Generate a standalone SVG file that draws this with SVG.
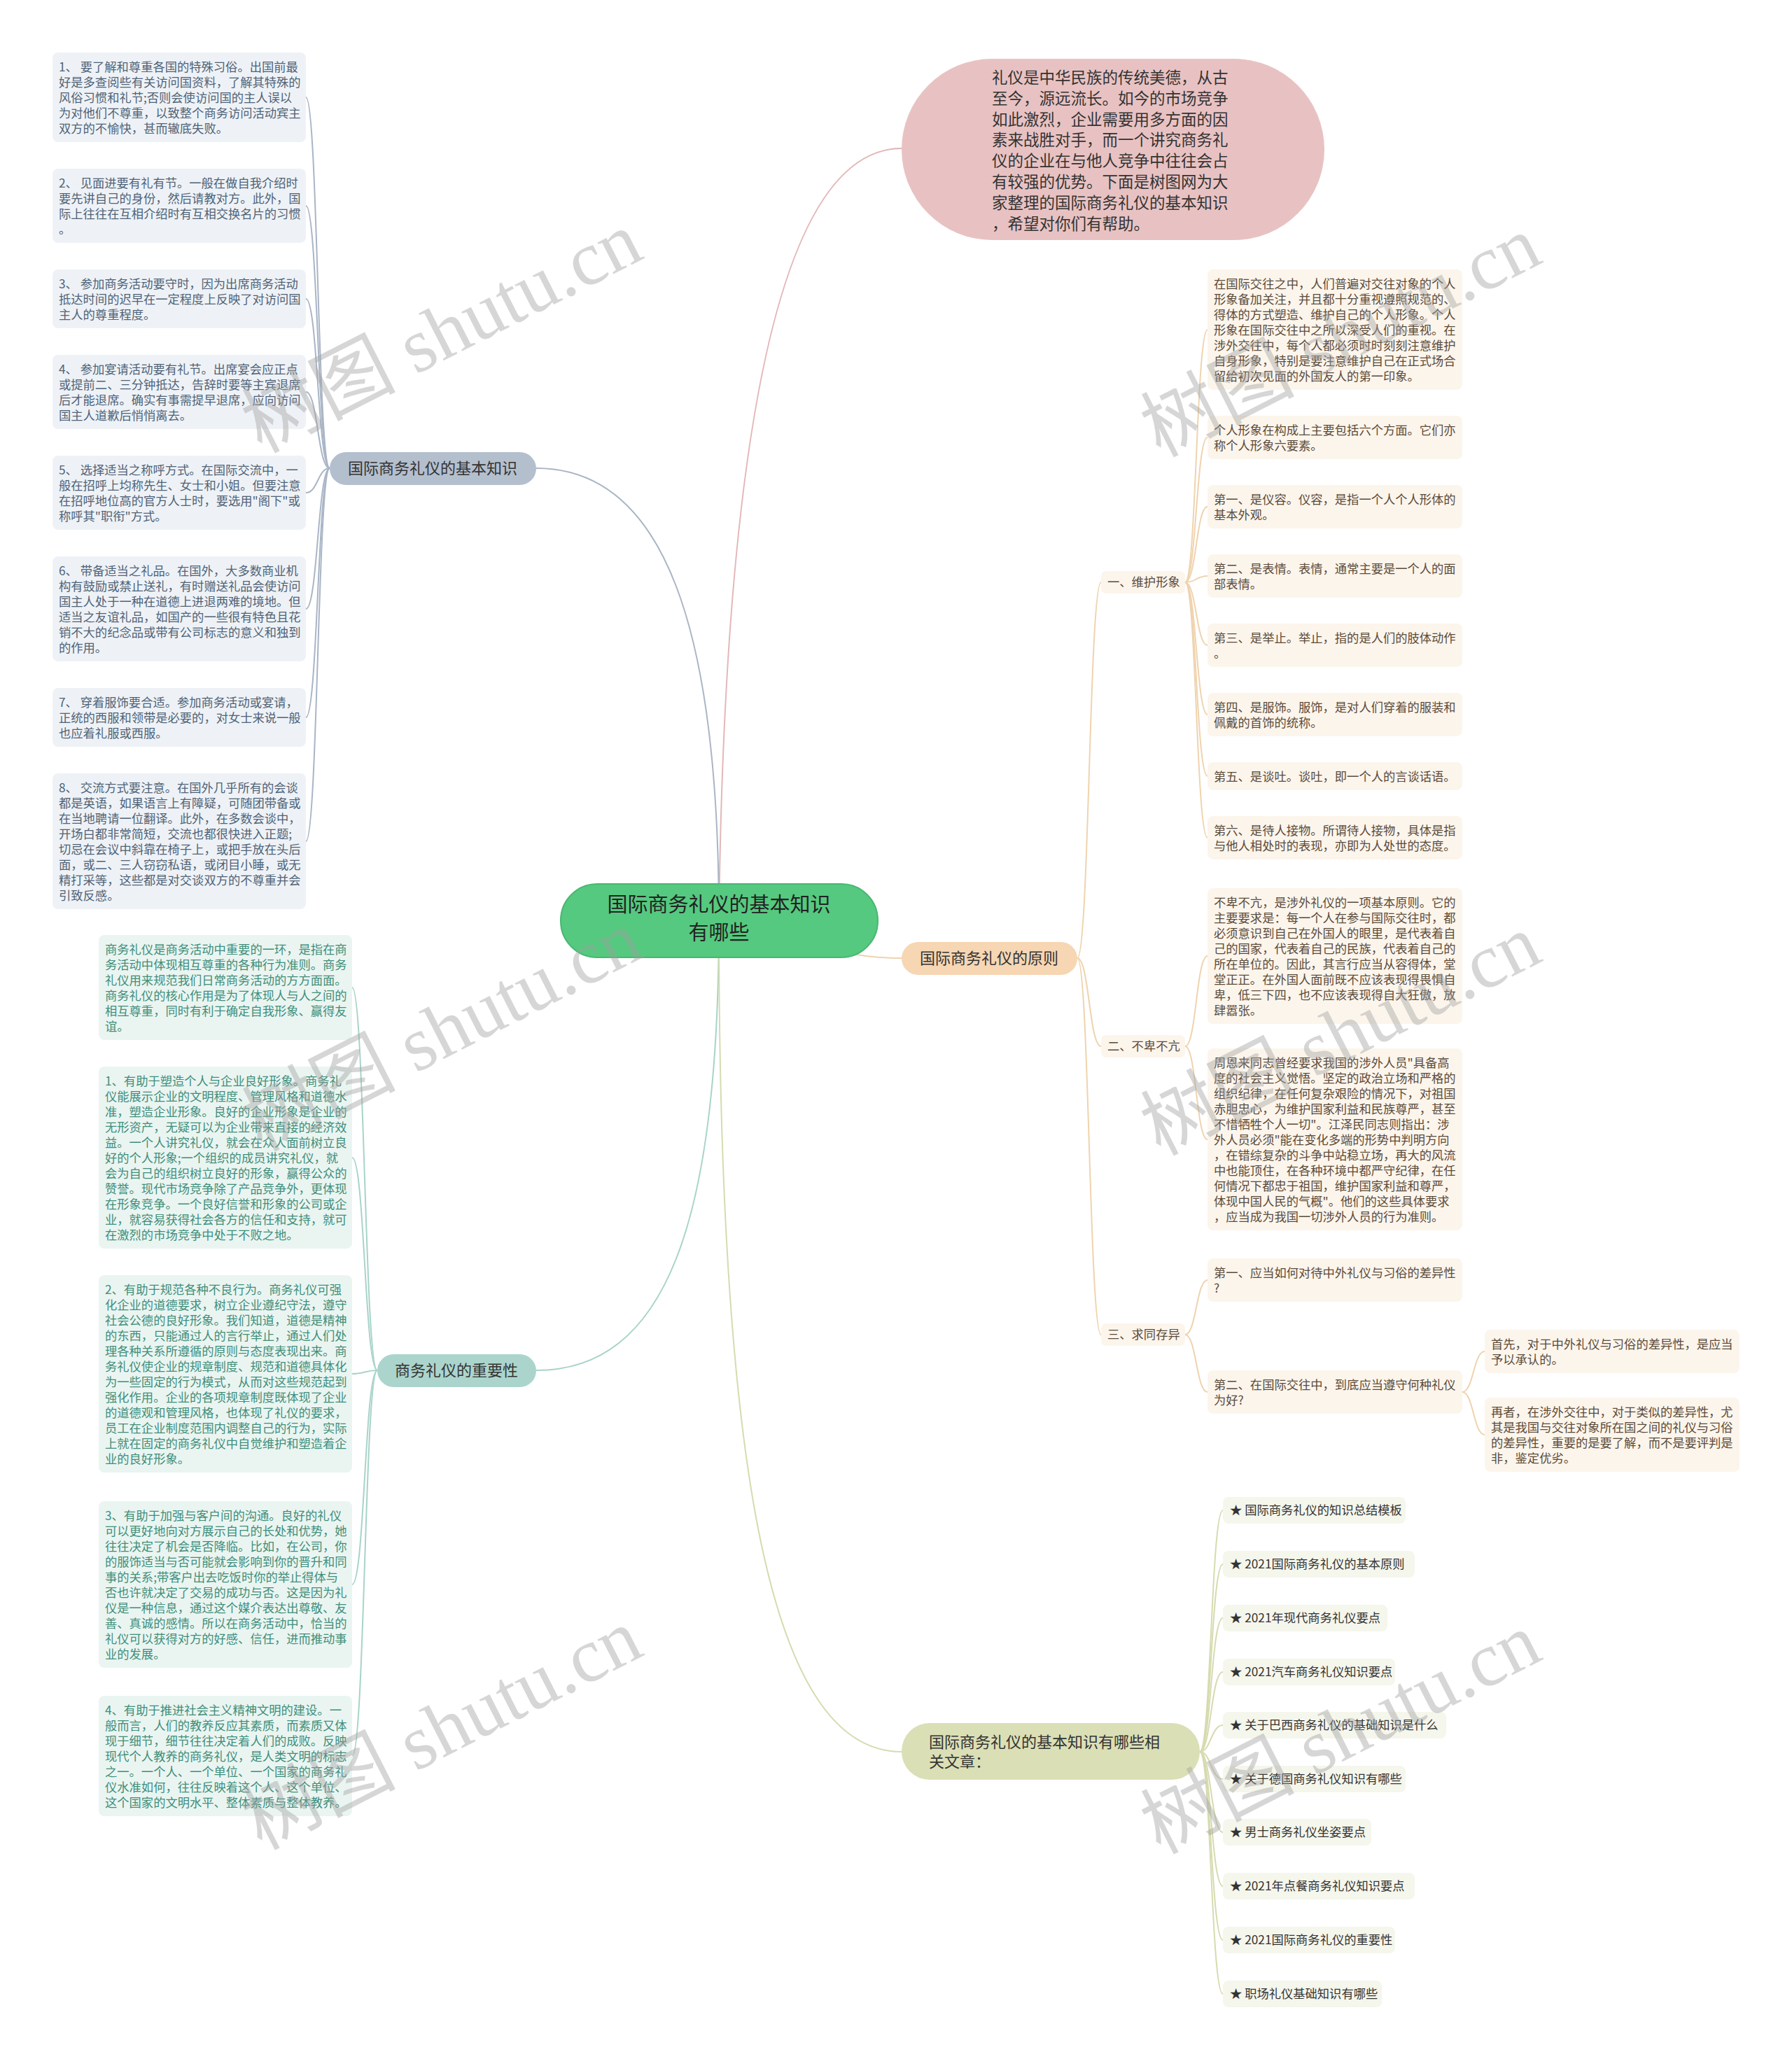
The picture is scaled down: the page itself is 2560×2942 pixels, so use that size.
<svg xmlns="http://www.w3.org/2000/svg" width="2560" height="2942" viewBox="0 0 2560 2942">
<style>
text{font-family:"Noto Sans CJK SC","Noto Sans",sans-serif;}
.ta{font-size:17.3px;fill:#4F6378}
.tb{font-size:17.3px;fill:#5B4B3A}
.tf{font-size:17.3px;fill:#3F8E7B}
.tr{font-size:17.3px;fill:#333}
.br{font-size:22px;fill:#333}
.ba{fill:#EEF2F6}
.bb{fill:#FCF5EC}
.bf{fill:#EAF5F1}
.bi{fill:#F5F6EC}
.ca{fill:none;stroke:#A9B5C6;stroke-width:2}
.co{fill:none;stroke:#EFD3AE;stroke-width:2}
.cg{fill:none;stroke:#A8D3C9;stroke-width:2}
.cy{fill:none;stroke:#D6DBAF;stroke-width:2}
.cp{fill:none;stroke:#E3B7B7;stroke-width:2}
.wm{font-family:"Liberation Serif","Noto Sans CJK SC",serif;font-size:110px;fill:#A0A0A0;opacity:0.42}
</style>
<rect width="2560" height="2942" fill="#FFFFFF"/>
<g id="connectors">
<path class="cp" d="M1027 1316 C1035 640 1110 212 1288 212"/>
<path class="ca" d="M1027 1316 C1027 900 950 669 766 669"/>
<path class="co" d="M1027 1316 C1160 1316 1150 1369 1288 1369"/>
<path class="cg" d="M1027 1316 C1027 1750 950 1958 766 1958"/>
<path class="cy" d="M1027 1316 C1027 2100 1100 2503 1288 2503"/>
<path class="ca" d="M471 669 C454 669 454 139 437 139"/>
<path class="ca" d="M471 669 C454 669 454 294 437 294"/>
<path class="ca" d="M471 669 C454 669 454 427 437 427"/>
<path class="ca" d="M471 669 C454 669 454 560 437 560"/>
<path class="ca" d="M471 669 C454 669 454 704 437 704"/>
<path class="ca" d="M471 669 C454 669 454 870 437 870"/>
<path class="ca" d="M471 669 C454 669 454 1025 437 1025"/>
<path class="ca" d="M471 669 C454 669 454 1202 437 1202"/>
<path class="co" d="M1539 1369 C1556 1369 1556 832 1573 832"/>
<path class="co" d="M1539 1369 C1556 1369 1556 1495 1573 1495"/>
<path class="co" d="M1539 1369 C1556 1369 1556 1907 1573 1907"/>
<path class="co" d="M1693 832 C1709 832 1709 471 1725 471"/>
<path class="co" d="M1693 832 C1709 832 1709 625 1725 625"/>
<path class="co" d="M1693 832 C1709 832 1709 724 1725 724"/>
<path class="co" d="M1693 832 C1709 832 1709 823 1725 823"/>
<path class="co" d="M1693 832 C1709 832 1709 922 1725 922"/>
<path class="co" d="M1693 832 C1709 832 1709 1021 1725 1021"/>
<path class="co" d="M1693 832 C1709 832 1709 1109 1725 1109"/>
<path class="co" d="M1693 832 C1709 832 1709 1197 1725 1197"/>
<path class="co" d="M1693 1495 C1709 1495 1709 1366 1725 1366"/>
<path class="co" d="M1693 1495 C1709 1495 1709 1628 1725 1628"/>
<path class="co" d="M1693 1907 C1709 1907 1709 1829 1725 1829"/>
<path class="co" d="M1693 1907 C1709 1907 1709 1989 1725 1989"/>
<path class="co" d="M2089 1989 C2105 1989 2105 1931 2121 1931"/>
<path class="co" d="M2089 1989 C2105 1989 2105 2050 2121 2050"/>
<path class="cg" d="M539 1958 C521 1958 521 1411 503 1411"/>
<path class="cg" d="M539 1958 C521 1958 521 1654 503 1654"/>
<path class="cg" d="M539 1958 C521 1958 521 1963 503 1963"/>
<path class="cg" d="M539 1958 C521 1958 521 2264 503 2264"/>
<path class="cg" d="M539 1958 C521 1958 521 2509 503 2509"/>
<path class="cy" d="M1714 2503 C1730 2503 1730 2158 1747 2158"/>
<path class="cy" d="M1714 2503 C1730 2503 1730 2235 1747 2235"/>
<path class="cy" d="M1714 2503 C1730 2503 1730 2312 1747 2312"/>
<path class="cy" d="M1714 2503 C1730 2503 1730 2389 1747 2389"/>
<path class="cy" d="M1714 2503 C1730 2503 1730 2465 1747 2465"/>
<path class="cy" d="M1714 2503 C1730 2503 1730 2542 1747 2542"/>
<path class="cy" d="M1714 2503 C1730 2503 1730 2618 1747 2618"/>
<path class="cy" d="M1714 2503 C1730 2503 1730 2695 1747 2695"/>
<path class="cy" d="M1714 2503 C1730 2503 1730 2772 1747 2772"/>
<path class="cy" d="M1714 2503 C1730 2503 1730 2849 1747 2849"/>
</g>

<g id="root">
<rect x="801" y="1263" width="453" height="105" rx="52" fill="#55C97F" stroke="#48B872" stroke-width="2"/>
<text x="1027" y="1303" text-anchor="middle" style="font-size:29px;fill:#222">国际商务礼仪的基本知识</text>
<text x="1027" y="1343" text-anchor="middle" style="font-size:29px;fill:#222">有哪些</text>
</g>

<g id="intro">
<rect x="1288" y="84" width="604" height="259" rx="129.5" fill="#E8C2C2"/>
<text style="font-size:22.5px;fill:#333">
<tspan x="1417" y="119">礼仪是中华民族的传统美德，从古</tspan>
<tspan x="1417" y="149">至今，源远流长。如今的市场竞争</tspan>
<tspan x="1417" y="179">如此激烈，企业需要用多方面的因</tspan>
<tspan x="1417" y="208">素来战胜对手，而一个讲究商务礼</tspan>
<tspan x="1417" y="238">仪的企业在与他人竞争中往往会占</tspan>
<tspan x="1417" y="268">有较强的优势。下面是树图网为大</tspan>
<tspan x="1417" y="298">家整理的国际商务礼仪的基本知识</tspan>
<tspan x="1417" y="328">，希望对你们有帮助。</tspan>
</text>
</g>

<g id="branch-basic">
<rect x="471" y="646" width="295" height="47" rx="23.5" fill="#B4BFCE"/>
<text class="br" x="618" y="677" text-anchor="middle">国际商务礼仪的基本知识</text>
</g>
<g id="basic-1"><rect class="ba" x="75" y="75" width="362" height="128" rx="8"/>
<text class="ta"><tspan x="84" y="102">1、 要了解和尊重各国的特殊习俗。出国前最</tspan><tspan x="84" y="124">好是多查阅些有关访问国资料，了解其特殊的</tspan><tspan x="84" y="146">风俗习惯和礼节;否则会使访问国的主人误以</tspan><tspan x="84" y="168">为对他们不尊重，以致整个商务访问活动宾主</tspan><tspan x="84" y="190">双方的不愉快，甚而辙底失败。</tspan></text></g>
<g id="basic-2"><rect class="ba" x="75" y="241" width="362" height="106" rx="8"/>
<text class="ta"><tspan x="84" y="268">2、 见面进要有礼有节。一般在做自我介绍时</tspan><tspan x="84" y="290">要先讲自己的身份，然后请教对方。此外，国</tspan><tspan x="84" y="312">际上往往在互相介绍时有互相交换名片的习惯</tspan><tspan x="84" y="334">。</tspan></text></g>
<g id="basic-3"><rect class="ba" x="75" y="385" width="362" height="84" rx="8"/>
<text class="ta"><tspan x="84" y="412">3、 参加商务活动要守时，因为出席商务活动</tspan><tspan x="84" y="434">抵达时间的迟早在一定程度上反映了对访问国</tspan><tspan x="84" y="456">主人的尊重程度。</tspan></text></g>
<g id="basic-4"><rect class="ba" x="75" y="507" width="362" height="106" rx="8"/>
<text class="ta"><tspan x="84" y="534">4、 参加宴请活动要有礼节。出席宴会应正点</tspan><tspan x="84" y="556">或提前二、三分钟抵达，告辞时要等主宾退席</tspan><tspan x="84" y="578">后才能退席。确实有事需提早退席，应向访问</tspan><tspan x="84" y="600">国主人道歉后悄悄离去。</tspan></text></g>
<g id="basic-5"><rect class="ba" x="75" y="651" width="362" height="106" rx="8"/>
<text class="ta"><tspan x="84" y="678">5、 选择适当之称呼方式。在国际交流中，一</tspan><tspan x="84" y="700">般在招呼上均称先生、女士和小姐。但要注意</tspan><tspan x="84" y="722">在招呼地位高的官方人士时，要选用"阁下"或</tspan><tspan x="84" y="744">称呼其"职衔"方式。</tspan></text></g>
<g id="basic-6"><rect class="ba" x="75" y="795" width="362" height="150" rx="8"/>
<text class="ta"><tspan x="84" y="822">6、 带备适当之礼品。在国外，大多数商业机</tspan><tspan x="84" y="844">构有鼓励或禁止送礼，有时赠送礼品会使访问</tspan><tspan x="84" y="866">国主人处于一种在道德上进退两难的境地。但</tspan><tspan x="84" y="888">适当之友谊礼品，如国产的一些很有特色且花</tspan><tspan x="84" y="910">销不大的纪念品或带有公司标志的意义和独到</tspan><tspan x="84" y="932">的作用。</tspan></text></g>
<g id="basic-7"><rect class="ba" x="75" y="983" width="362" height="84" rx="8"/>
<text class="ta"><tspan x="84" y="1010">7、 穿着服饰要合适。参加商务活动或宴请，</tspan><tspan x="84" y="1032">正统的西服和领带是必要的，对女士来说一般</tspan><tspan x="84" y="1054">也应着礼服或西服。</tspan></text></g>
<g id="basic-8"><rect class="ba" x="75" y="1105" width="362" height="194" rx="8"/>
<text class="ta"><tspan x="84" y="1132">8、 交流方式要注意。在国外几乎所有的会谈</tspan><tspan x="84" y="1154">都是英语，如果语言上有障疑，可随团带备或</tspan><tspan x="84" y="1176">在当地聘请一位翻译。此外，在多数会谈中，</tspan><tspan x="84" y="1198">开场白都非常简短，交流也都很快进入正题;</tspan><tspan x="84" y="1220">切忌在会议中斜靠在椅子上，或把手放在头后</tspan><tspan x="84" y="1242">面，或二、三人窃窃私语，或闭目小睡，或无</tspan><tspan x="84" y="1264">精打采等，这些都是对交谈双方的不尊重并会</tspan><tspan x="84" y="1286">引致反感。</tspan></text></g>

<g id="branch-principle">
<rect x="1288" y="1346" width="251" height="47" rx="23.5" fill="#F6D6B3"/>
<text class="br" x="1413" y="1377" text-anchor="middle">国际商务礼仪的原则</text>
</g>
<g id="label-1"><rect class="bb" x="1573" y="816" width="120" height="32" rx="7"/><text class="tb" x="1582" y="838">一、维护形象</text></g>
<g id="label-2"><rect class="bb" x="1573" y="1479" width="120" height="32" rx="7"/><text class="tb" x="1582" y="1501">二、不卑不亢</text></g>
<g id="label-3"><rect class="bb" x="1573" y="1891" width="120" height="32" rx="7"/><text class="tb" x="1582" y="1913">三、求同存异</text></g>

<g id="image-1"><rect class="bb" x="1725" y="385" width="364" height="172" rx="8"/>
<text class="tb"><tspan x="1734" y="412">在国际交往之中，人们普遍对交往对象的个人</tspan><tspan x="1734" y="434">形象备加关注，并且都十分重视遵照规范的、</tspan><tspan x="1734" y="456">得体的方式塑造、维护自己的个人形象。个人</tspan><tspan x="1734" y="478">形象在国际交往中之所以深受人们的重视。在</tspan><tspan x="1734" y="500">涉外交往中，每个人都必须时时刻刻注意维护</tspan><tspan x="1734" y="522">自身形象，特别是要注意维护自己在正式场合</tspan><tspan x="1734" y="544">留给初次见面的外国友人的第一印象。</tspan></text></g>
<g id="image-2"><rect class="bb" x="1725" y="594" width="364" height="62" rx="8"/>
<text class="tb"><tspan x="1734" y="621">个人形象在构成上主要包括六个方面。它们亦</tspan><tspan x="1734" y="643">称个人形象六要素。</tspan></text></g>
<g id="image-3"><rect class="bb" x="1725" y="693" width="364" height="62" rx="8"/>
<text class="tb"><tspan x="1734" y="720">第一、是仪容。仪容，是指一个人个人形体的</tspan><tspan x="1734" y="742">基本外观。</tspan></text></g>
<g id="image-4"><rect class="bb" x="1725" y="792" width="364" height="62" rx="8"/>
<text class="tb"><tspan x="1734" y="819">第二、是表情。表情，通常主要是一个人的面</tspan><tspan x="1734" y="841">部表情。</tspan></text></g>
<g id="image-5"><rect class="bb" x="1725" y="891" width="364" height="62" rx="8"/>
<text class="tb"><tspan x="1734" y="918">第三、是举止。举止，指的是人们的肢体动作</tspan><tspan x="1734" y="940">。</tspan></text></g>
<g id="image-6"><rect class="bb" x="1725" y="990" width="364" height="62" rx="8"/>
<text class="tb"><tspan x="1734" y="1017">第四、是服饰。服饰，是对人们穿着的服装和</tspan><tspan x="1734" y="1039">佩戴的首饰的统称。</tspan></text></g>
<g id="image-7"><rect class="bb" x="1725" y="1089" width="364" height="40" rx="8"/>
<text class="tb"><tspan x="1734" y="1116">第五、是谈吐。谈吐，即一个人的言谈话语。</tspan></text></g>
<g id="image-8"><rect class="bb" x="1725" y="1166" width="364" height="62" rx="8"/>
<text class="tb"><tspan x="1734" y="1193">第六、是待人接物。所谓待人接物，具体是指</tspan><tspan x="1734" y="1215">与他人相处时的表现，亦即为人处世的态度。</tspan></text></g>

<g id="dignity-1"><rect class="bb" x="1725" y="1269" width="364" height="194" rx="8"/>
<text class="tb"><tspan x="1734" y="1296">不卑不亢，是涉外礼仪的一项基本原则。它的</tspan><tspan x="1734" y="1318">主要要求是：每一个人在参与国际交往时，都</tspan><tspan x="1734" y="1340">必须意识到自己在外国人的眼里，是代表着自</tspan><tspan x="1734" y="1362">己的国家，代表着自己的民族，代表着自己的</tspan><tspan x="1734" y="1384">所在单位的。因此，其言行应当从容得体，堂</tspan><tspan x="1734" y="1406">堂正正。在外国人面前既不应该表现得畏惧自</tspan><tspan x="1734" y="1428">卑，低三下四，也不应该表现得自大狂傲，放</tspan><tspan x="1734" y="1450">肆嚣张。</tspan></text></g>
<g id="dignity-2"><rect class="bb" x="1725" y="1498" width="364" height="260" rx="8"/>
<text class="tb"><tspan x="1734" y="1525">周恩来同志曾经要求我国的涉外人员"具备高</tspan><tspan x="1734" y="1547">度的社会主义觉悟。坚定的政治立场和严格的</tspan><tspan x="1734" y="1569">组织纪律，在任何复杂艰险的情况下，对祖国</tspan><tspan x="1734" y="1591">赤胆忠心，为维护国家利益和民族尊严，甚至</tspan><tspan x="1734" y="1613">不惜牺牲个人一切"。江泽民同志则指出：涉</tspan><tspan x="1734" y="1635">外人员必须"能在变化多端的形势中判明方向</tspan><tspan x="1734" y="1657">，在错综复杂的斗争中站稳立场，再大的风流</tspan><tspan x="1734" y="1679">中也能顶住，在各种环境中都严守纪律，在任</tspan><tspan x="1734" y="1701">何情况下都忠于祖国，维护国家利益和尊严，</tspan><tspan x="1734" y="1723">体现中国人民的气概"。他们的这些具体要求</tspan><tspan x="1734" y="1745">，应当成为我国一切涉外人员的行为准则。</tspan></text></g>

<g id="common-1"><rect class="bb" x="1725" y="1798" width="364" height="62" rx="8"/>
<text class="tb"><tspan x="1734" y="1825">第一、应当如何对待中外礼仪与习俗的差异性</tspan><tspan x="1734" y="1847">?</tspan></text></g>
<g id="common-2"><rect class="bb" x="1725" y="1958" width="364" height="62" rx="8"/>
<text class="tb"><tspan x="1734" y="1985">第二、在国际交往中，到底应当遵守何种礼仪</tspan><tspan x="1734" y="2007">为好?</tspan></text></g>
<g id="common-2a"><rect class="bb" x="2121" y="1900" width="364" height="62" rx="8"/>
<text class="tb"><tspan x="2130" y="1927">首先，对于中外礼仪与习俗的差异性，是应当</tspan><tspan x="2130" y="1949">予以承认的。</tspan></text></g>
<g id="common-2b"><rect class="bb" x="2121" y="1997" width="364" height="106" rx="8"/>
<text class="tb"><tspan x="2130" y="2024">再者，在涉外交往中，对于类似的差异性，尤</tspan><tspan x="2130" y="2046">其是我国与交往对象所在国之间的礼仪与习俗</tspan><tspan x="2130" y="2068">的差异性，重要的是要了解，而不是要评判是</tspan><tspan x="2130" y="2090">非，鉴定优劣。</tspan></text></g>

<g id="branch-importance">
<rect x="539" y="1935" width="227" height="47" rx="23.5" fill="#ABD5CC"/>
<text class="br" x="652" y="1966" text-anchor="middle">商务礼仪的重要性</text>
</g>
<g id="imp-0"><rect class="bf" x="141" y="1336" width="362" height="150" rx="8"/>
<text class="tf"><tspan x="150" y="1363">商务礼仪是商务活动中重要的一环，是指在商</tspan><tspan x="150" y="1385">务活动中体现相互尊重的各种行为准则。商务</tspan><tspan x="150" y="1407">礼仪用来规范我们日常商务活动的方方面面。</tspan><tspan x="150" y="1429">商务礼仪的核心作用是为了体现人与人之间的</tspan><tspan x="150" y="1451">相互尊重，同时有利于确定自我形象、赢得友</tspan><tspan x="150" y="1473">谊。</tspan></text></g>
<g id="imp-1"><rect class="bf" x="141" y="1524" width="362" height="260" rx="8"/>
<text class="tf"><tspan x="150" y="1551">1、有助于塑造个人与企业良好形象。商务礼</tspan><tspan x="150" y="1573">仪能展示企业的文明程度、管理风格和道德水</tspan><tspan x="150" y="1595">准，塑造企业形象。良好的企业形象是企业的</tspan><tspan x="150" y="1617">无形资产，无疑可以为企业带来直接的经济效</tspan><tspan x="150" y="1639">益。一个人讲究礼仪，就会在众人面前树立良</tspan><tspan x="150" y="1661">好的个人形象;一个组织的成员讲究礼仪，就</tspan><tspan x="150" y="1683">会为自己的组织树立良好的形象，赢得公众的</tspan><tspan x="150" y="1705">赞誉。现代市场竞争除了产品竞争外，更体现</tspan><tspan x="150" y="1727">在形象竞争。一个良好信誉和形象的公司或企</tspan><tspan x="150" y="1749">业，就容易获得社会各方的信任和支持，就可</tspan><tspan x="150" y="1771">在激烈的市场竞争中处于不败之地。</tspan></text></g>
<g id="imp-2"><rect class="bf" x="141" y="1822" width="362" height="282" rx="8"/>
<text class="tf"><tspan x="150" y="1849">2、有助于规范各种不良行为。商务礼仪可强</tspan><tspan x="150" y="1871">化企业的道德要求，树立企业遵纪守法，遵守</tspan><tspan x="150" y="1893">社会公德的良好形象。我们知道，道德是精神</tspan><tspan x="150" y="1915">的东西，只能通过人的言行举止，通过人们处</tspan><tspan x="150" y="1937">理各种关系所遵循的原则与态度表现出来。商</tspan><tspan x="150" y="1959">务礼仪使企业的规章制度、规范和道德具体化</tspan><tspan x="150" y="1981">为一些固定的行为模式，从而对这些规范起到</tspan><tspan x="150" y="2003">强化作用。企业的各项规章制度既体现了企业</tspan><tspan x="150" y="2025">的道德观和管理风格，也体现了礼仪的要求，</tspan><tspan x="150" y="2047">员工在企业制度范围内调整自己的行为，实际</tspan><tspan x="150" y="2069">上就在固定的商务礼仪中自觉维护和塑造着企</tspan><tspan x="150" y="2091">业的良好形象。</tspan></text></g>
<g id="imp-3"><rect class="bf" x="141" y="2145" width="362" height="238" rx="8"/>
<text class="tf"><tspan x="150" y="2172">3、有助于加强与客户间的沟通。良好的礼仪</tspan><tspan x="150" y="2194">可以更好地向对方展示自己的长处和优势，她</tspan><tspan x="150" y="2216">往往决定了机会是否降临。比如，在公司，你</tspan><tspan x="150" y="2238">的服饰适当与否可能就会影响到你的晋升和同</tspan><tspan x="150" y="2260">事的关系;带客户出去吃饭时你的举止得体与</tspan><tspan x="150" y="2282">否也许就决定了交易的成功与否。这是因为礼</tspan><tspan x="150" y="2304">仪是一种信息，通过这个媒介表达出尊敬、友</tspan><tspan x="150" y="2326">善、真诚的感情。所以在商务活动中，恰当的</tspan><tspan x="150" y="2348">礼仪可以获得对方的好感、信任，进而推动事</tspan><tspan x="150" y="2370">业的发展。</tspan></text></g>
<g id="imp-4"><rect class="bf" x="141" y="2423" width="362" height="172" rx="8"/>
<text class="tf"><tspan x="150" y="2450">4、有助于推进社会主义精神文明的建设。一</tspan><tspan x="150" y="2472">般而言，人们的教养反应其素质，而素质又体</tspan><tspan x="150" y="2494">现于细节，细节往往决定着人们的成败。反映</tspan><tspan x="150" y="2516">现代个人教养的商务礼仪，是人类文明的标志</tspan><tspan x="150" y="2538">之一。一个人、一个单位、一个国家的商务礼</tspan><tspan x="150" y="2560">仪水准如何，往往反映着这个人、这个单位、</tspan><tspan x="150" y="2582">这个国家的文明水平、整体素质与整体教养。</tspan></text></g>

<g id="branch-related">
<rect x="1288" y="2462" width="426" height="81" rx="40" fill="#DBDFB5"/>
<text class="br"><tspan x="1327" y="2497">国际商务礼仪的基本知识有哪些相</tspan><tspan x="1327" y="2525">关文章：</tspan></text>
</g>
<g id="rel-1"><rect class="bi" x="1747" y="2139" width="261" height="38" rx="8"/><text class="tr" x="1757" y="2164">★ 国际商务礼仪的知识总结模板</text></g>
<g id="rel-2"><rect class="bi" x="1747" y="2216" width="274" height="38" rx="8"/><text class="tr" x="1757" y="2241">★ 2021国际商务礼仪的基本原则</text></g>
<g id="rel-3"><rect class="bi" x="1747" y="2293" width="235" height="38" rx="8"/><text class="tr" x="1757" y="2318">★ 2021年现代商务礼仪要点</text></g>
<g id="rel-4"><rect class="bi" x="1747" y="2370" width="246" height="38" rx="8"/><text class="tr" x="1757" y="2395">★ 2021汽车商务礼仪知识要点</text></g>
<g id="rel-5"><rect class="bi" x="1747" y="2446" width="319" height="38" rx="8"/><text class="tr" x="1757" y="2471">★ 关于巴西商务礼仪的基础知识是什么</text></g>
<g id="rel-6"><rect class="bi" x="1747" y="2523" width="261" height="38" rx="8"/><text class="tr" x="1757" y="2548">★ 关于德国商务礼仪知识有哪些</text></g>
<g id="rel-7"><rect class="bi" x="1747" y="2599" width="212" height="38" rx="8"/><text class="tr" x="1757" y="2624">★ 男士商务礼仪坐姿要点</text></g>
<g id="rel-8"><rect class="bi" x="1747" y="2676" width="274" height="38" rx="8"/><text class="tr" x="1757" y="2701">★ 2021年点餐商务礼仪知识要点</text></g>
<g id="rel-9"><rect class="bi" x="1747" y="2753" width="246" height="38" rx="8"/><text class="tr" x="1757" y="2778">★ 2021国际商务礼仪的重要性</text></g>
<g id="rel-10"><rect class="bi" x="1747" y="2830" width="227" height="38" rx="8"/><text class="tr" x="1757" y="2855">★ 职场礼仪基础知识有哪些</text></g>

<g id="watermarks">
<text class="wm" transform="translate(648,508) rotate(-27)" x="0" y="0" text-anchor="middle">树图 shutu.cn</text>
<text class="wm" transform="translate(1932,514) rotate(-27)" x="0" y="0" text-anchor="middle">树图 shutu.cn</text>
<text class="wm" transform="translate(648,1506) rotate(-27)" x="0" y="0" text-anchor="middle">树图 shutu.cn</text>
<text class="wm" transform="translate(1932,1512) rotate(-27)" x="0" y="0" text-anchor="middle">树图 shutu.cn</text>
<text class="wm" transform="translate(648,2504) rotate(-27)" x="0" y="0" text-anchor="middle">树图 shutu.cn</text>
<text class="wm" transform="translate(1932,2510) rotate(-27)" x="0" y="0" text-anchor="middle">树图 shutu.cn</text>
</g>
</svg>
